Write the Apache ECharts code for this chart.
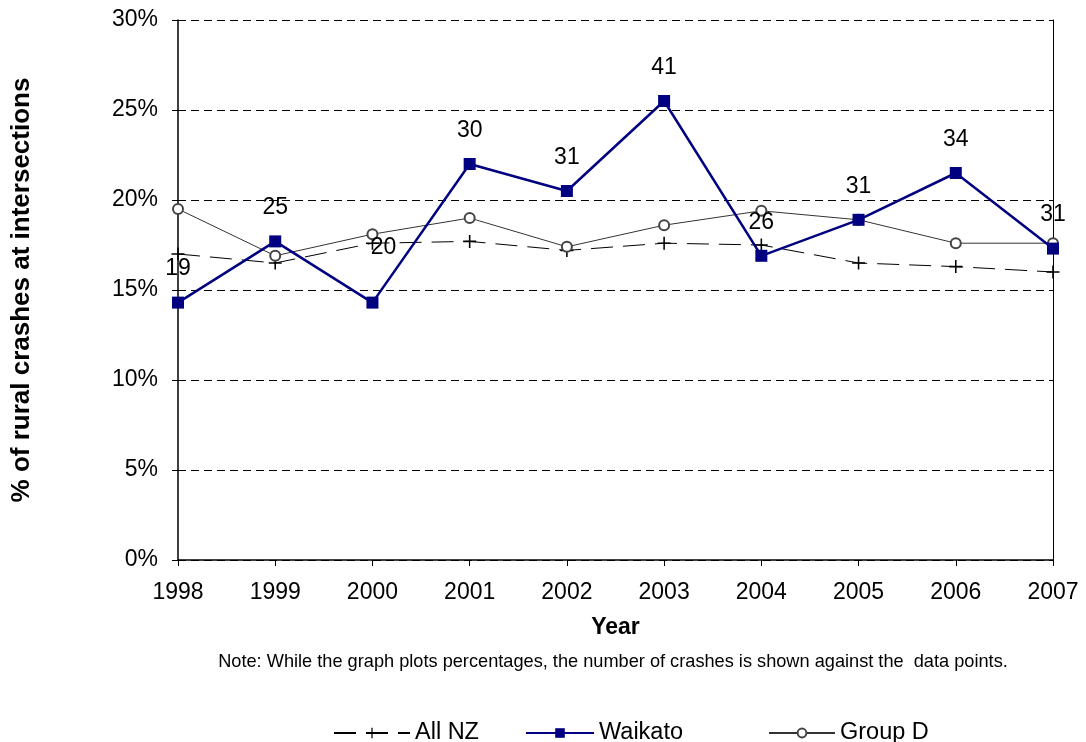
<!DOCTYPE html>
<html>
<head>
<meta charset="utf-8">
<script src="https://cdn.jsdelivr.net/npm/echarts@6/dist/echarts.min.js"></script>
<style>
  html, body { margin: 0; padding: 0; background: #fff; }
  #chart-container { width: 1086px; height: 742px; }
</style>
</head>
<body>
<div id="chart-container"></div>
<script>
var years = ['1998', '1999', '2000', '2001', '2002', '2003', '2004', '2005', '2006', '2007'];
var allNZ = [17.0, 16.5, 17.6, 17.7, 17.2, 17.6, 17.5, 16.5, 16.3, 16.0];
var waikato = [14.3, 17.7, 14.3, 22.0, 20.5, 25.5, 16.9, 18.9, 21.5, 17.3];
var groupD = [19.5, 16.9, 18.1, 19.0, 17.4, 18.6, 19.4, 18.9, 17.6, 17.6];
var waikatoCrashes = [19, 25, 20, 30, 31, 41, 26, 31, 34, 31];

var dom = document.getElementById('chart-container');
var myChart = echarts.init(dom, null, { renderer: 'canvas' });

var font = 'Liberation Sans, Arial, sans-serif';
var plus = 'path://M4.4,0H5.6V4.4H10V5.6H5.6V10H4.4V5.6H0V4.4H4.4Z';

// the 2000 label sits higher and a bit to the right in the original
var waikatoData = waikato.map(function (v, i) {
  var item = { value: v, label: { formatter: String(waikatoCrashes[i]) } };
  if (i === 2) item.label.offset = [11, -21];
  return item;
});

var option = {
  animation: false,
  textStyle: { fontFamily: font },
  grid: { left: 178, right: 33, top: 20, bottom: 182 },
  title: [
    {
      text: 'Note: While the graph plots percentages, the number of crashes is shown against the  data points.',
      left: 608, top: 648, textAlign: 'center',
      textStyle: { fontSize: 18.2, fontWeight: 'normal', color: '#000', fontFamily: font }
    }
  ],
  legend: [
    {
      data: ['All NZ'], left: 328, top: 716, itemWidth: 76, itemHeight: 13, itemGap: 8,
      textStyle: { fontSize: 23.5, color: '#000', fontFamily: font }
    },
    {
      data: ['Waikato'], left: 520, top: 716, itemWidth: 68, itemHeight: 12,
      textStyle: { fontSize: 23.5, color: '#000', fontFamily: font }
    },
    {
      data: ['Group D'], left: 763, top: 716, itemWidth: 66, itemHeight: 11,
      textStyle: { fontSize: 23.5, color: '#000', fontFamily: font }
    }
  ],
  xAxis: {
    type: 'category',
    data: years,
    boundaryGap: false,
    name: 'Year',
    nameLocation: 'middle',
    nameGap: 56,
    nameTextStyle: { fontSize: 23, fontWeight: 'bold', color: '#000', fontFamily: font, verticalAlign: 'top' },
    axisLine: { lineStyle: { color: '#000', width: 1.5 } },
    axisTick: { show: true, length: 6, alignWithLabel: true, lineStyle: { color: '#000' } },
    axisLabel: { fontSize: 23, color: '#000', margin: 21, fontFamily: font }
  },
  yAxis: [
    {
      type: 'value',
      min: 0, max: 30, interval: 5,
      name: '% of rural crashes at intersections',
      nameLocation: 'middle',
      nameGap: 143,
      nameTextStyle: { fontSize: 26, fontWeight: 'bold', color: '#000', fontFamily: font },
      axisLine: { show: true, lineStyle: { color: '#000', width: 1.5 } },
      axisTick: { show: true, length: 6, lineStyle: { color: '#000' } },
      axisLabel: { fontSize: 23, color: '#000', margin: 20, formatter: '{value}%', fontFamily: font },
      splitLine: { show: true, lineStyle: { color: '#000', type: [8, 5], width: 1 } }
    },
    {
      type: 'value',
      min: 0, max: 30, interval: 5,
      position: 'right',
      axisLine: { show: true, lineStyle: { color: '#000', width: 1 } },
      axisTick: { show: false },
      axisLabel: { show: false },
      splitLine: { show: false }
    }
  ],
  series: [
    {
      name: 'All NZ',
      type: 'line',
      data: allNZ,
      symbol: plus,
      symbolSize: 13,
      itemStyle: { color: '#000' },
      lineStyle: { color: '#000', width: 1, type: [22, 10] },
      z: 2
    },
    {
      name: 'Group D',
      type: 'line',
      data: groupD,
      symbol: 'emptyCircle',
      symbolSize: 10,
      itemStyle: { color: '#444', borderWidth: 2 },
      lineStyle: { color: '#333', width: 1 },
      z: 3
    },
    {
      name: 'Waikato',
      type: 'line',
      data: waikatoData,
      symbol: 'rect',
      symbolSize: 12,
      itemStyle: { color: '#000080' },
      lineStyle: { color: '#000080', width: 2.5 },
      label: {
        show: true, position: 'top', distance: 16,
        fontSize: 23, color: '#000', fontFamily: font
      },
      z: 4
    }
  ]
};

myChart.setOption(option);
window.addEventListener('resize', myChart.resize);
</script>
</body>
</html>
